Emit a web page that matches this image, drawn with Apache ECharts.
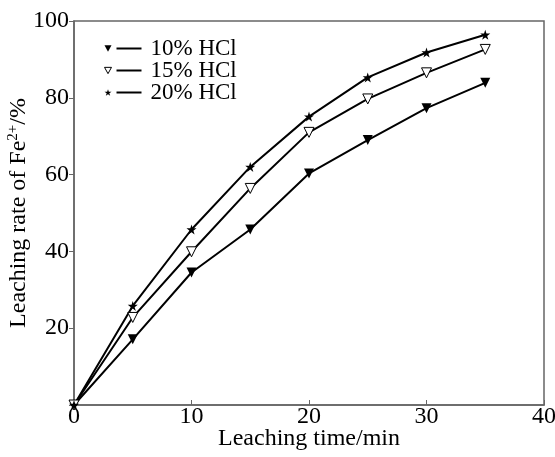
<!DOCTYPE html>
<html>
<head>
<meta charset="utf-8">
<script src="https://cdn.jsdelivr.net/npm/echarts@6/dist/echarts.min.js"></script>
<style>
  html, body { margin: 0; padding: 0; background: #fff; }
  #main { width: 555px; height: 457px; }
</style>
</head>
<body>
<div id="main"></div>
<script>
// leaching time (min)
var time = [0, 5, 10, 15, 20, 25, 30, 35];
// leaching rate of Fe2+ (%)
var hcl10 = [0, 17.1, 34.5, 45.7, 60.3, 69.0, 77.3, 83.9];
var hcl15 = [0, 22.8, 39.9, 56.4, 71.0, 79.7, 86.5, 92.6];
var hcl20 = [0, 25.8, 45.7, 62.0, 75.1, 85.3, 91.8, 96.4];
var names = ['10% HCl', '15% HCl', '20% HCl'];

var triDown = 'path://M0,0L10,0L5,9Z';
var star = 'path://M5,0L6.2,3.6L10,3.6L6.9,5.9L8.1,9.5L5,7.3L1.9,9.5L3.1,5.9L0,3.6L3.8,3.6Z';
var symbols = [triDown, triDown, star];
var fills = ['#000', '#fff', '#000'];

function pairs(ys) {
	var out = [];
	for (var i = 0; i < time.length; i++) {
		out.push([time[i], ys[i]]);
	}
	return out;
}

var font = '"Liberation Serif", "Times New Roman", serif';
var axisColor = '#666';

function makeSeries(idx, ys) {
	return {
		name: names[idx],
		type: 'line',
		data: pairs(ys),
		symbol: symbols[idx],
		symbolSize: 10,
		showAllSymbol: true,
		lineStyle: { color: '#000', width: 2 },
		itemStyle: { color: fills[idx], borderColor: '#000', borderWidth: fills[idx] === '#fff' ? 1 : 0 },
		emphasis: { disabled: true },
		z: 3
	};
}

var legendData = names.map(function (n, i) {
	return {
		name: n,
		icon: symbols[i],
		itemStyle: { color: fills[i], borderColor: '#000', borderWidth: fills[i] === '#fff' ? 1 : 0 }
	};
});

var chart = echarts.init(document.getElementById('main'));
var option = {
	animation: false,
	backgroundColor: '#fff',
	textStyle: { fontFamily: font },
	grid: {
		left: 74, right: 11, top: 21, bottom: 52,
		outerBoundsMode: 'none',
		containLabel: false,
		show: true, borderColor: axisColor, borderWidth: 1.5
	},
	legend: {
		orient: 'vertical',
		left: 99, top: 32,
		itemWidth: 7, itemHeight: 7,
		itemGap: -1,
		data: legendData,
		formatter: function (n) { return '{ln| }{sp2| }' + n; },
		textStyle: {
			fontFamily: font, fontSize: 23, color: '#000', lineHeight: 22,
			rich: {
				ln: { width: 25, height: 2, backgroundColor: '#000' },
				sp2: { width: 9 }
			}
		}
	},
	xAxis: {
		type: 'value',
		min: 0, max: 40, interval: 10,
		name: 'Leaching time/min',
		nameLocation: 'middle',
		nameGap: 22,
		nameMoveOverlap: false,
		nameTextStyle: { fontFamily: font, fontSize: 24, color: '#000' },
		axisLine: { lineStyle: { color: axisColor, width: 1.5 } },
		axisTick: { inside: true, length: 5, lineStyle: { color: axisColor } },
		axisLabel: { fontFamily: font, fontSize: 24, color: '#000', margin: 0 },
		splitLine: { show: false }
	},
	yAxis: {
		type: 'value',
		min: 0, max: 100, interval: 20,
		name: 'Leaching rate of Fe{sup|2+}/%',
		nameLocation: 'middle',
		nameGap: 43,
		nameMoveOverlap: false,
		nameTextStyle: {
			fontFamily: font, fontSize: 24, color: '#000',
			rich: { sup: { fontFamily: font, fontSize: 15, color: '#000', verticalAlign: 'top', padding: [0, 0, 10, 0] } }
		},
		axisLine: { lineStyle: { color: axisColor, width: 1.5 } },
		axisTick: { inside: false, length: 5, lineStyle: { color: axisColor } },
		axisLabel: {
			fontFamily: font, fontSize: 24, color: '#000', margin: 5,
			formatter: function (v) { return v === 0 ? '' : v; }
		},
		splitLine: { show: false }
	},
	series: [
		makeSeries(0, hcl10),
		makeSeries(1, hcl15),
		makeSeries(2, hcl20)
	]
};
chart.setOption(option);
</script>
</body>
</html>
